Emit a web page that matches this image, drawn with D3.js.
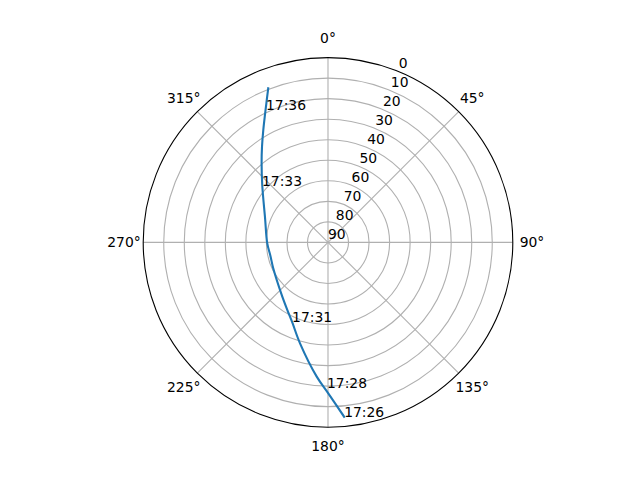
<!DOCTYPE html>
<html>
<head>
<meta charset="utf-8">
<script src="https://cdn.jsdelivr.net/npm/d3@7/dist/d3.min.js"></script>
<style>
  html, body { margin: 0; padding: 0; background: #fff; }
  svg { display: block; }
  text { font-family: "DejaVu Sans", sans-serif; font-size: 13.9px; fill: #000; }
</style>
</head>
<body>
<svg id="chart" width="640" height="480"></svg>
<script>
// Track (azimuth in degrees, elevation in degrees)
const trackAz = [174.7, 179.9, 184.8, 195.5, 204.3, 211.1, 221.4, 244.7, 257.0, 269.3, 290.9, 311.1, 320.0, 325.4, 330.1, 336.1, 338.8];
const trackEl = [4.7, 16.5, 24.4, 39.0, 47.5, 51.6, 55.9, 60.5, 61.2, 60.4, 57.2, 47.5, 39.7, 33.4, 26.8, 15.9, 9.5];

// Time labels
const timeLabels = ["17:26", "17:28", "17:31", "17:33", "17:36"];
const timeAz = [174.7, 180.4, 204.3, 310.7, 334.9];
const timeEl = [4.7, 19.2, 47.5, 47.6, 18.8];

// Axis ticks
const thetaTicks = [0, 45, 90, 135, 180, 225, 270, 315];
const elTicks = [0, 10, 20, 30, 40, 50, 60, 70, 80, 90];

const cx = 328, cy = 242.4, R = 184.8;
const svg = d3.select("#chart");
const g = svg.append("g").attr("transform", `translate(${cx},${cy})`);

const r = d3.scaleLinear().domain([90, 0]).range([0, R]);
const rad = d => d * Math.PI / 180;
const px = (az, el) => r(el) * Math.sin(rad(az));
const py = (az, el) => -r(el) * Math.cos(rad(az));

// Rings
g.selectAll("circle.ring")
  .data(elTicks.filter(e => e > 0 && e < 90))
  .enter().append("circle")
  .attr("r", d => r(d))
  .attr("fill", "none")
  .attr("stroke", "#b0b0b0")
  .attr("stroke-width", 1.1);

// Spokes
g.selectAll("line.spoke")
  .data(thetaTicks)
  .enter().append("line")
  .attr("x1", 0).attr("y1", 0)
  .attr("x2", d => px(d, 0))
  .attr("y2", d => py(d, 0))
  .attr("stroke", "#b0b0b0")
  .attr("stroke-width", 1.1);

// Outer spine
g.append("circle")
  .attr("r", R)
  .attr("fill", "none")
  .attr("stroke", "#000")
  .attr("stroke-width", 1.1);

// Theta labels
g.selectAll("text.theta")
  .data(thetaTicks)
  .enter().append("text")
  .attr("x", d => 204 * Math.sin(rad(d)))
  .attr("y", d => -204 * Math.cos(rad(d)) + 5)
  .attr("text-anchor", "middle")
  .text(d => d + "°");

// Radial labels at 22.5°
g.selectAll("text.rlab")
  .data(elTicks)
  .enter().append("text")
  .attr("x", d => px(22.5, d))
  .attr("y", d => py(22.5, d) - 3.3)
  .attr("text-anchor", "start")
  .text(d => d);

// Track
const track = trackAz.map((a, i) => [rad(a), r(trackEl[i])]);
g.append("path")
  .datum(track)
  .attr("d", d3.lineRadial().angle(d => d[0]).radius(d => d[1]).curve(d3.curveCatmullRom))
  .attr("fill", "none")
  .attr("stroke", "#1f77b4")
  .attr("stroke-width", 2.1)
  .attr("stroke-linecap", "square");

// Time labels
g.selectAll("text.time")
  .data(timeLabels)
  .enter().append("text")
  .attr("x", (d, i) => px(timeAz[i], timeEl[i]))
  .attr("y", (d, i) => py(timeAz[i], timeEl[i]))
  .attr("text-anchor", "start")
  .text(d => d);
</script>
</body>
</html>
